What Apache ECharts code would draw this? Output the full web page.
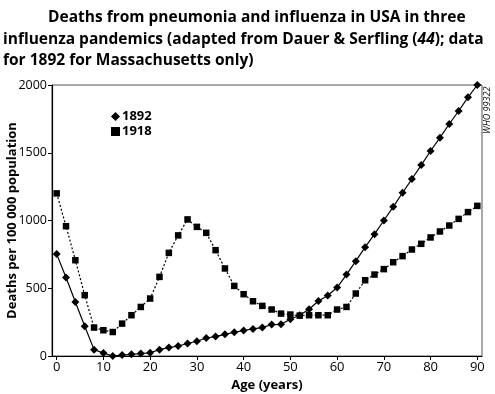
<!DOCTYPE html>
<html><head><meta charset="utf-8">
<script src="https://cdn.jsdelivr.net/npm/echarts@6/dist/echarts.min.js"></script>
<style>html,body{margin:0;padding:0;background:#fff}#c{width:495px;height:394px}</style>
</head><body><div id="c"></div>
<script>
const ages = [0,2,4,6,8,10,12,14,16,18,20,22,24,26,28,30,32,34,36,38,40,42,44,46,48,50,52,54,56,58,60,62,64,66,68,70,72,74,76,78,80,82,84,86,88,90];
const deaths1892 = [752,579,399,219,47,22,0,7,13,18,24,47,62,74,92,109,133,143,160,175,188,200,210,232,234,271,301,345,406,446,505,601,700,803,899,1000,1101,1205,1306,1409,1513,1611,1712,1808,1909,2000];
const deaths1918 = [1200,958,707,449,210,190,177,239,301,362,424,584,761,890,1008,953,909,781,646,517,456,404,370,343,313,306,298,301,301,301,343,362,461,559,601,641,692,737,786,828,875,919,963,1012,1062,1108];
const xTicks = [0,10,20,30,40,50,60,70,80,90];
const yTicks = [0,500,1000,1500,2000];
const seriesNames = ['1892','1918'];

const F = '"Open Sans", "Noto Sans", sans-serif';
const chart = echarts.init(document.getElementById('c'), null, {renderer:'canvas'});
const pair = (xs, ys) => xs.map((x,i)=>[x, ys[i]]);
const TS = {fontFamily:F,fontSize:15.5,fontWeight:'bold',color:'#000'};
chart.setOption({
  animation:false,
  backgroundColor:'#fff',
  title:[
    {text:'Deaths from pneumonia and influenza in USA in three', left:48, top:10, padding:0, textStyle:TS},
    {text:'influenza pandemics (adapted from Dauer & Serfling ({i|44}); data', left:3, top:32, padding:0, textStyle:Object.assign({},TS,{rich:{i:Object.assign({},TS,{fontStyle:'italic'})}})},
    {text:'for 1892 for Massachusetts only)', left:3, top:53, padding:0, textStyle:TS}
  ],
  legend:{
    orient:'vertical', left:111, top:110, itemGap:2, itemWidth:9, itemHeight:9, padding:0,
    data:[{name:seriesNames[0],icon:'diamond'},{name:seriesNames[1],icon:'rect'}],
    textStyle:{fontFamily:F,fontSize:13,fontWeight:'bold',color:'#000',lineHeight:13,padding:[0,0,0,-3]}
  },
  grid:{left:52,right:13,top:85,bottom:38,containLabel:false,outerBoundsMode:'none',show:true,borderColor:'#555',borderWidth:1},
  xAxis:{
    type:'value', min:-1, max:91,
    name:'Age (years)', nameLocation:'middle', nameGap:23, nameMoveOverlap:false,
    nameTextStyle:{fontFamily:F,fontSize:13,fontWeight:'bold',color:'#000'},
    axisLine:{show:true,onZero:false,lineStyle:{color:'#000',width:1.2}},
    axisTick:{show:true,length:4,customValues:xTicks,lineStyle:{color:'#000'}},
    axisLabel:{customValues:xTicks,fontFamily:F,fontSize:13,color:'#000',margin:5},
    splitLine:{show:false}
  },
  yAxis:{
    type:'value', min:0, max:2000, interval:500,
    name:'Deaths per 100 000 population', nameLocation:'middle', nameGap:33, nameMoveOverlap:false,
    nameTextStyle:{fontFamily:F,fontSize:13,fontWeight:'bold',color:'#000'},
    axisLine:{show:true,onZero:false,lineStyle:{color:'#000',width:1.2}},
    axisTick:{show:true,length:4,customValues:yTicks,lineStyle:{color:'#000'}},
    axisLabel:{customValues:yTicks,formatter:v=>String(v),fontFamily:F,fontSize:12.5,color:'#000',margin:5},
    splitLine:{show:false}
  },
  series:[
    {name:seriesNames[0], type:'line', data:pair(ages,deaths1892), symbol:'diamond', symbolSize:8,
     itemStyle:{color:'#000'}, lineStyle:{color:'#000',width:1.2,type:'solid'}},
    {name:seriesNames[1], type:'line', data:pair(ages,deaths1918), symbol:'rect', symbolSize:6.5,
     itemStyle:{color:'#000'}, lineStyle:{color:'#000',width:1.2,type:[2,2]}}
  ],
  graphic:[
    {type:'text', x:483, y:134, rotation:Math.PI/2,
     style:{text:'WHO 99322', fontFamily:F, fontSize:9, fontStyle:'italic', fill:'#000', textAlign:'left', textVerticalAlign:'top'}}
  ]
});
</script></body></html>
